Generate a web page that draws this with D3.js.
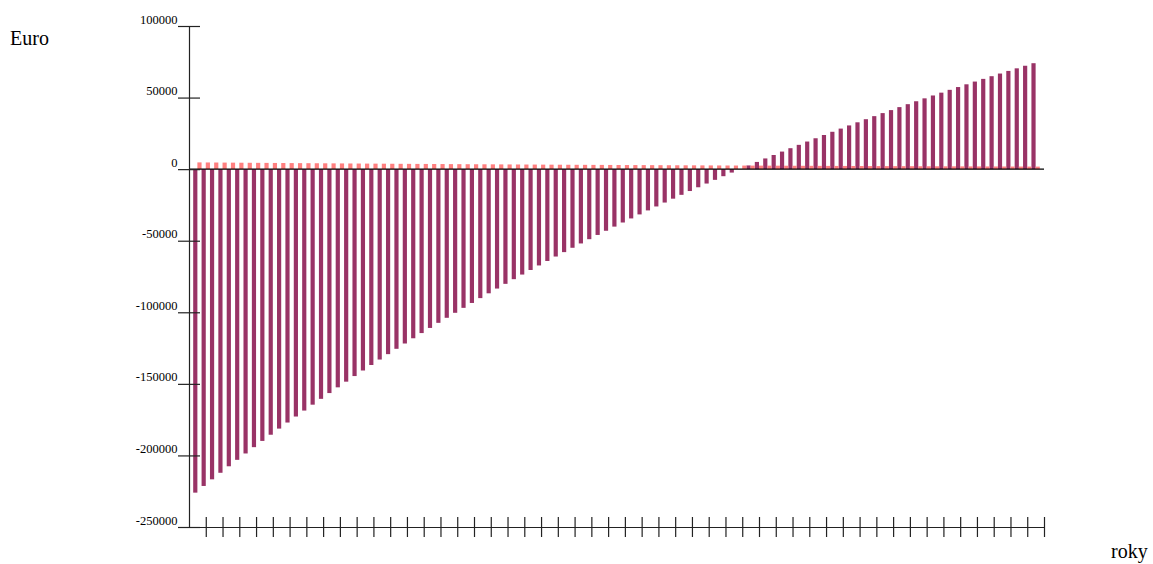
<!DOCTYPE html>
<html>
<head>
<meta charset="utf-8">
<script src="https://cdn.jsdelivr.net/npm/d3@7/dist/d3.min.js"></script>
<style>
  html, body { margin: 0; padding: 0; background: #fff; }
  svg { display: block; }
  text { font-family: "Liberation Serif", "Times New Roman", serif; fill: #000; }
</style>
</head>
<body>
<svg id="chart" width="1153" height="564"></svg>
<script>
// Cumulative balance per period (dark bars), Euro
const balance = [
  -226000, -221330, -216700, -212120, -207580, -203080, -198630, -194220, -189860, -185540,
  -181260, -177020, -172820, -168660, -164540, -160470, -156430, -152430, -148470, -144550,
  -140670, -136820, -133010, -129240, -125510, -121810, -118150, -114520, -110930, -107370,
  -103850, -100360, -96900, -93480, -90100, -86740, -83420, -80130, -76870, -73640,
  -70450, -67280, -64150, -61050, -57970, -54930, -51910, -48930, -45970, -43050,
  -40150, -37280, -34430, -31620, -28830, -26070, -23340, -20630, -17950, -15290,
  -12660, -10060, -7480, -4930, -2400, 110, 2590, 5040, 7480, 9880,
  12270, 14630, 16970, 19290, 21580, 23850, 26100, 28330, 30540, 32720,
  34890, 37030, 39150, 41250, 43330, 45390, 47430, 49460, 51460, 53440,
  55400, 57350, 59270, 61180, 63060, 64930, 66790, 68620, 70430, 72230, 74010
];
// Per-period amount (light bars), Euro
const annual = [
  4720, 4670, 4630, 4580, 4540, 4490, 4450, 4410, 4370, 4320,
  4280, 4240, 4200, 4160, 4120, 4080, 4040, 4000, 3960, 3920,
  3880, 3850, 3810, 3770, 3730, 3700, 3660, 3630, 3590, 3560,
  3520, 3490, 3450, 3420, 3390, 3360, 3320, 3290, 3260, 3230,
  3200, 3160, 3130, 3100, 3070, 3040, 3010, 2980, 2960, 2930,
  2900, 2870, 2840, 2820, 2790, 2760, 2730, 2710, 2680, 2660,
  2630, 2600, 2580, 2550, 2530, 2500, 2480, 2460, 2430, 2410,
  2390, 2360, 2340, 2320, 2290, 2270, 2250, 2230, 2210, 2190,
  2160, 2140, 2120, 2100, 2080, 2060, 2040, 2020, 2000, 1980,
  1960, 1940, 1920, 1910, 1890, 1870, 1850, 1830, 1820, 1800, 1780
];
const yTicks = [-250000, -200000, -150000, -100000, -50000, 0, 50000, 100000];
const yLabel = "Euro";
const xLabel = "roky";

const svg = d3.select("#chart");
const plotLeft = 189, plotRight = 1044, plotTop = 26, plotBottom = 527;

const x = d3.scaleLinear().domain([0, balance.length + 1]).range([plotLeft, plotRight]);
const y = d3.scaleLinear().domain([-250000, 100000]).range([plotBottom, plotTop]);
const w = (x(1) - x(0)) / 2;

// bars
svg.append("g").selectAll("rect.bal").data(balance).join("rect")
  .attr("class", "bal")
  .attr("x", (d, i) => x(i + 1) - w)
  .attr("width", w)
  .attr("y", d => y(Math.max(0, d)))
  .attr("height", d => Math.abs(y(d) - y(0)))
  .attr("fill", "#993366");

svg.append("g").selectAll("rect.ann").data(annual).join("rect")
  .attr("class", "ann")
  .attr("x", (d, i) => x(i + 1))
  .attr("width", w)
  .attr("y", d => y(Math.max(0, d)))
  .attr("height", d => Math.abs(y(d) - y(0)))
  .attr("fill", "#ff8080");

// zero line
svg.append("line")
  .attr("x1", plotLeft).attr("x2", plotRight)
  .attr("y1", y(0)).attr("y2", y(0))
  .attr("stroke", "#000").attr("stroke-width", 1.2);

// y axis
const yAxis = svg.append("g")
  .attr("transform", `translate(${plotLeft},0)`)
  .call(d3.axisLeft(y).tickValues(yTicks).tickFormat(d => String(d)).tickSize(11).tickSizeOuter(0));
yAxis.attr("font-family", "Liberation Serif, serif").attr("font-size", 12.5);
yAxis.select(".domain").attr("stroke", "#222").attr("stroke-width", 1.2);
yAxis.selectAll(".tick line").attr("x1", -11).attr("x2", 11).attr("stroke", "#222").attr("stroke-width", 1.2);
yAxis.selectAll(".tick text")
  .attr("x", -11.5).attr("dy", "-3").attr("y", 0)
  .style("font-family", "'Liberation Serif', serif")
  .style("font-size", "12.5px").attr("fill", "#000");

// x axis
const xTickVals = d3.range(2, balance.length + 2, 2);
const xAxis = svg.append("g")
  .attr("transform", `translate(0,${plotBottom})`)
  .call(d3.axisBottom(x).tickValues(xTickVals).tickFormat("").tickSize(10).tickSizeOuter(0));
xAxis.select(".domain").attr("stroke", "#222").attr("stroke-width", 1.2);
xAxis.selectAll(".tick line").attr("y1", -10).attr("y2", 10).attr("stroke", "#222").attr("stroke-width", 1.2);

// axis titles
svg.append("text").attr("x", 10).attr("y", 45)
  .style("font-size", "20px").text(yLabel);
svg.append("text").attr("x", 1111).attr("y", 558)
  .style("font-size", "20px").text(xLabel);
</script>
</body>
</html>
